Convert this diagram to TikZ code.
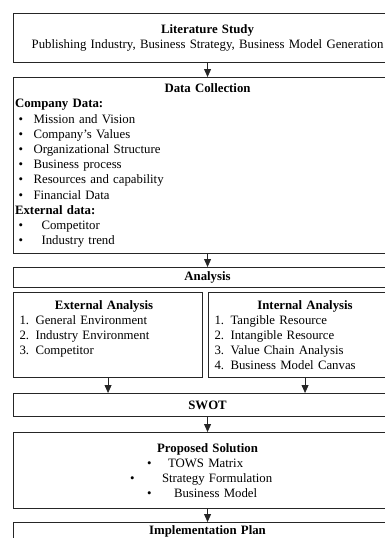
\documentclass[tikz,border=0pt]{standalone}
\usepackage{fontspec}
\setmainfont{Liberation Serif}
\usetikzlibrary{arrows.meta}

\newcommand{\blt}[2][18.5pt]{\makebox[#1][l]{\hspace{3.5pt}\textbullet}#2}
\newcommand{\nmb}[2]{\makebox[16pt][l]{#1.}#2}
\newcommand{\cbl}[3]{\makebox[385pt][l]{\hspace{#1}\textbullet\hspace{#2}#3}}

\begin{document}
\begin{tikzpicture}[x=1pt, y=-1pt,
  every node/.style={font=\fontsize{12.8}{15.2}\selectfont},
  kotak/.style={draw=black!85, line width=1.1pt, anchor=north west,
                inner xsep=1.5pt, inner ysep=0pt, align=left},
  panah/.style={-{Triangle[width=7pt,length=8pt]}, line width=0.8pt, black!85}]
\useasboundingbox (0,0) rectangle (385,538);
\clip (0,0) rectangle (385,538);
\node[kotak, text width=385pt, minimum height=49pt, align=center] (lit) at (13,13)
  {\textbf{Literature Study}\\Publishing Industry, Business Strategy, Business Model Generation};
\node[kotak, text width=385pt, minimum height=176pt] (dc) at (13,77)
  {\makebox[385pt][c]{\textbf{Data Collection}}\\
   \textbf{Company Data:}\\
   \blt{Mission and Vision}\\
   \blt{Company’s Values}\\
   \blt{Organizational Structure}\\
   \blt{Business process}\\
   \blt{Resources and capability}\\
   \blt{Financial Data}\\
   \textbf{External data:}\\
   \blt[26.5pt]{Competitor}\\
   \blt[26.5pt]{Industry trend}};
\node[kotak, text width=385pt, minimum height=20pt, align=center] (ana) at (13,267)
  {\textbf{Analysis}};
\node[kotak, inner xsep=6pt, text width=177pt, minimum height=85pt] (ext) at (13,292)
  {\makebox[177pt][c]{\textbf{External Analysis}\hspace*{8pt}}\\
   \nmb{1}{General Environment}\\
   \nmb{2}{Industry Environment}\\
   \nmb{3}{Competitor}\\
   \phantom{4. Business Model Canvas}};
\node[kotak, inner xsep=6pt, text width=181pt, minimum height=85pt] (int) at (208,292)
  {\makebox[181pt][c]{\textbf{Internal Analysis}}\\
   \nmb{1}{Tangible Resource}\\
   \nmb{2}{Intangible Resource}\\
   \nmb{3}{Value Chain Analysis}\\
   \nmb{4}{Business Model Canvas}};
\node[kotak, text width=385pt, minimum height=23pt, align=center] (swot) at (13,393)
  {\textbf{SWOT}};
\node[kotak, text width=385pt, minimum height=76pt] (prop) at (13,432)
  {\makebox[385pt][c]{\textbf{Proposed Solution}}\\
   \cbl{132pt}{16.5pt}{TOWS Matrix}\\
   \cbl{115pt}{27.5pt}{Strategy Formulation}\\
   \cbl{132pt}{22.5pt}{Business Model}};
\node[kotak, text width=385pt, inner ysep=3pt, align=center] (impl) at (13,522)
  {\textbf{Implementation Plan}};
\draw[panah] (lit.south) -- (dc.north);
\draw[panah] (dc.south) -- (ana.north);
\draw[panah] (ext.south) -- (ext.south |- swot.north);
\draw[panah] (int.south) -- (int.south |- swot.north);
\draw[panah] (swot.south) -- (prop.north);
\draw[panah] (prop.south) -- (impl.north);
\end{tikzpicture}
\end{document}
